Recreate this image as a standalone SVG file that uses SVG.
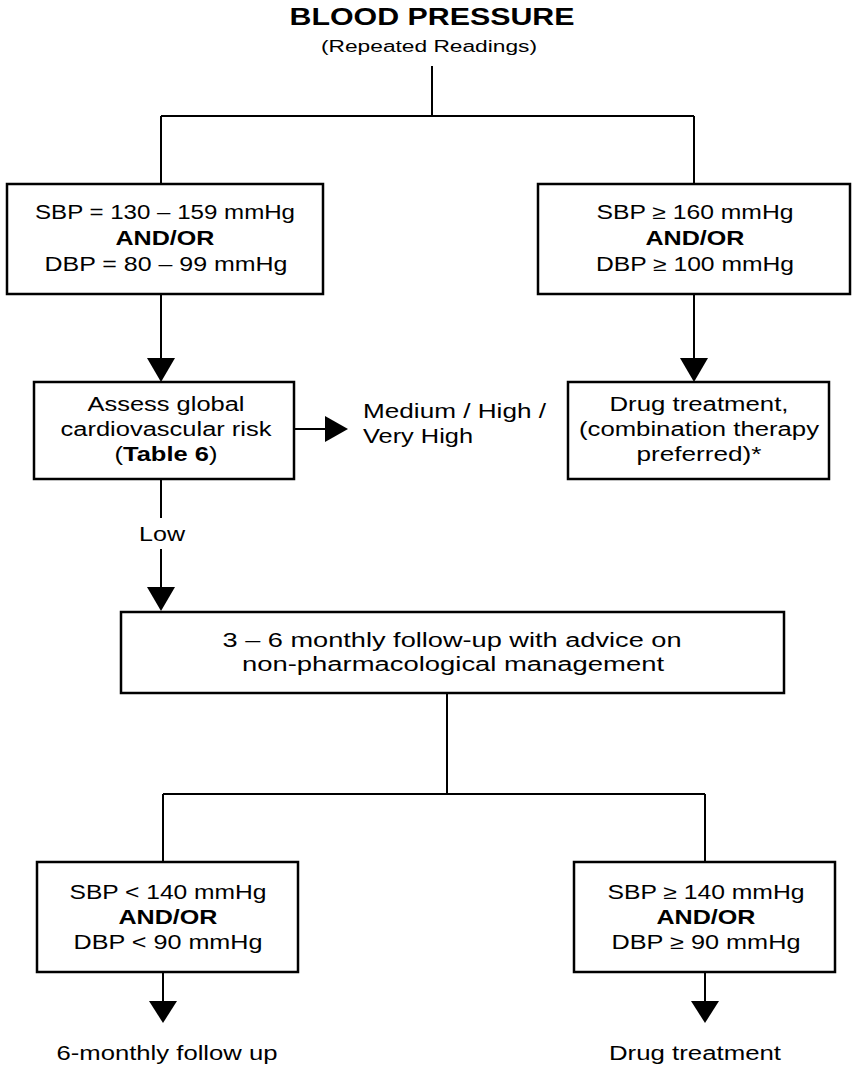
<svg xmlns="http://www.w3.org/2000/svg" width="852" height="1068" viewBox="0 0 852 1068">
<style>
.box{fill:#fff;stroke:#000;stroke-width:2.5}
.ln{fill:none;stroke:#000;stroke-width:2}
.ah{fill:#000}
text{font-family:"Liberation Sans",Arial,sans-serif;font-size:19.5px;fill:#000;text-anchor:middle}
.b{font-weight:bold}
.st{text-anchor:start}
</style>
<g id="title">
<text x="432" y="25" class="b" style="font-size:24px" textLength="285" lengthAdjust="spacingAndGlyphs">BLOOD PRESSURE</text>
<text x="429" y="52" style="font-size:16px" textLength="216" lengthAdjust="spacingAndGlyphs">(Repeated Readings)</text>
</g>
<g id="connectors">
<path class="ln" d="M432 66V116M161 116H694M161 116V184M694 116V184"/>
<path class="ln" d="M161 295V362M694 295V362M294 429H328M161 480V518M161 549V592M447 693V794M163 794H705M163 794V862M705 794V862M163 973V1004M705 973V1004"/>
<polygon class="ah" points="147,358 175,358 161,382"/>
<polygon class="ah" points="680,358 708,358 694,382"/>
<polygon class="ah" points="325,416 325,442 348,429"/>
<polygon class="ah" points="147,587 175,587 161,611"/>
<polygon class="ah" points="149,1001 177,1001 163,1023"/>
<polygon class="ah" points="691,1001 719,1001 705,1023"/>
<text x="162" y="541" textLength="46" lengthAdjust="spacingAndGlyphs">Low</text>
<text x="363" y="418" class="st" textLength="183" lengthAdjust="spacingAndGlyphs">Medium / High /</text>
<text x="363" y="443" class="st" textLength="110" lengthAdjust="spacingAndGlyphs">Very High</text>
</g>
<g id="n1">
<rect class="box" x="7" y="184" width="316" height="110"/>
<text x="165" y="219" textLength="260" lengthAdjust="spacingAndGlyphs">SBP = 130 – 159 mmHg</text>
<text x="165" y="245" class="b" textLength="99" lengthAdjust="spacingAndGlyphs">AND/OR</text>
<text x="166" y="271" textLength="243" lengthAdjust="spacingAndGlyphs">DBP = 80 – 99 mmHg</text>
</g>
<g id="n2">
<rect class="box" x="538" y="184" width="312" height="110"/>
<text x="695" y="219" textLength="197" lengthAdjust="spacingAndGlyphs">SBP ≥ 160 mmHg</text>
<text x="695" y="245" class="b" textLength="99" lengthAdjust="spacingAndGlyphs">AND/OR</text>
<text x="695" y="271" textLength="198" lengthAdjust="spacingAndGlyphs">DBP ≥ 100 mmHg</text>
</g>
<g id="n3">
<rect class="box" x="34" y="382" width="260" height="97"/>
<text x="166" y="411" textLength="157" lengthAdjust="spacingAndGlyphs">Assess global</text>
<text x="166" y="436" textLength="211" lengthAdjust="spacingAndGlyphs">cardiovascular risk</text>
<text x="166" y="461" textLength="103" lengthAdjust="spacingAndGlyphs">(<tspan class="b">Table 6</tspan>)</text>
</g>
<g id="n4">
<rect class="box" x="568" y="382" width="261" height="97"/>
<text x="699" y="411" textLength="179" lengthAdjust="spacingAndGlyphs">Drug treatment,</text>
<text x="699" y="436" textLength="240" lengthAdjust="spacingAndGlyphs">(combination therapy</text>
<text x="699" y="461" textLength="125" lengthAdjust="spacingAndGlyphs">preferred)*</text>
</g>
<g id="n5">
<rect class="box" x="121" y="612" width="663" height="81"/>
<text x="452" y="647" textLength="459" lengthAdjust="spacingAndGlyphs">3 – 6 monthly follow-up with advice on</text>
<text x="453" y="671" textLength="422" lengthAdjust="spacingAndGlyphs">non-pharmacological management</text>
</g>
<g id="n6">
<rect class="box" x="37" y="862" width="261" height="110"/>
<text x="168" y="899" textLength="197" lengthAdjust="spacingAndGlyphs">SBP &lt; 140 mmHg</text>
<text x="168" y="924" class="b" textLength="99" lengthAdjust="spacingAndGlyphs">AND/OR</text>
<text x="168" y="949" textLength="189" lengthAdjust="spacingAndGlyphs">DBP &lt; 90 mmHg</text>
</g>
<g id="n7">
<rect class="box" x="574" y="862" width="261" height="110"/>
<text x="706" y="899" textLength="197" lengthAdjust="spacingAndGlyphs">SBP ≥ 140 mmHg</text>
<text x="706" y="924" class="b" textLength="99" lengthAdjust="spacingAndGlyphs">AND/OR</text>
<text x="706" y="949" textLength="189" lengthAdjust="spacingAndGlyphs">DBP ≥ 90 mmHg</text>
</g>
<g id="n8">
<text x="167" y="1060" textLength="221" lengthAdjust="spacingAndGlyphs">6-monthly follow up</text>
</g>
<g id="n9">
<text x="695" y="1060" textLength="172" lengthAdjust="spacingAndGlyphs">Drug treatment</text>
</g>
</svg>
